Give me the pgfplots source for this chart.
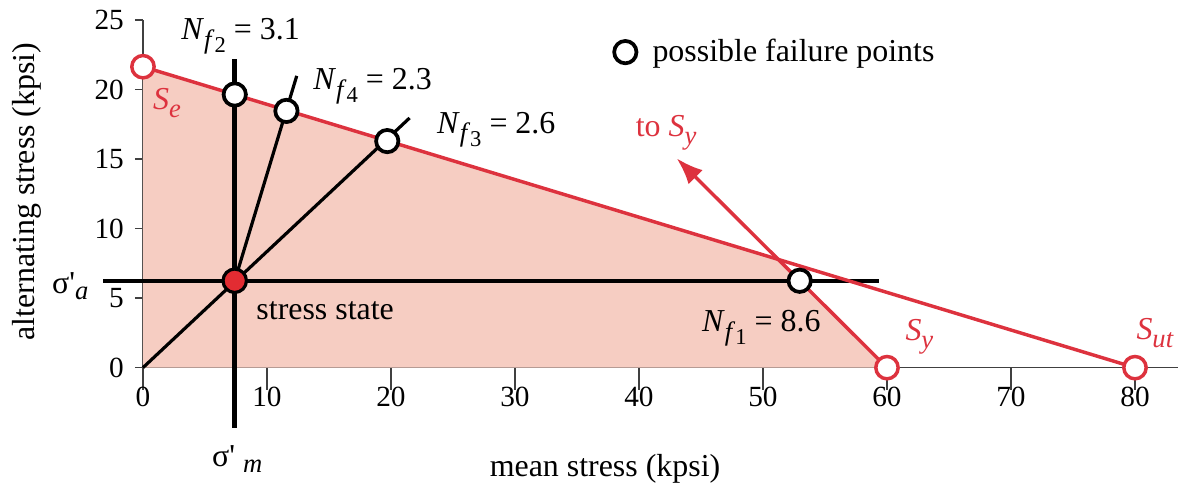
\documentclass[border=0pt]{standalone}
\usepackage{fontspec}
\setmainfont{LiberationSerif}[
  Extension=.ttf,
  UprightFont=*-Regular,
  BoldFont=*-Bold,
  ItalicFont=*-Italic,
  BoldItalicFont=*-BoldItalic]
\usepackage{pgfplots}
\pgfplotsset{compat=1.18}
\usetikzlibrary{arrows.meta}

\definecolor{goodred}{RGB}{221,50,62}
\definecolor{safefill}{RGB}{246,205,194}
\definecolor{statered}{RGB}{226,44,50}

% lowered subscript in text fonts
\newcommand{\lo}[2][3pt]{\raisebox{-#1}{\fontsize{10}{12}\selectfont #2}}
% safety factor N_{f_k}
\newcommand{\Nf}[1]{\textit{N}\raisebox{-3.2pt}{\fontsize{10}{12}\selectfont\textit{f}\raisebox{-1.8pt}{\fontsize{8.5}{10}\selectfont #1}}}
% primed stress component
\newcommand{\sig}[2][0pt]{σ\textquotesingle\hspace{#1}\lo[2.3pt]{\textit{#2}}}

\begin{document}
\fontsize{12}{14}\selectfont
\begin{tikzpicture}[lbl/.style={anchor=base west, inner sep=0pt}]
\begin{axis}[
  x=4.6617pt, y=5.2256pt,
  xmin=0, xmax=83.5, ymin=0, ymax=25,
  axis x line=bottom, axis y line=left,
  axis line style={-, line width=0.6pt, black!75},
  tick align=outside,
  major tick length=3pt,
  xtick={0,10,...,80}, ytick={0,5,...,25},
  xtick style={/pgfplots/major tick length=8.3pt, line width=0.6pt, black!75},
  ytick style={line width=0.6pt, black!75},
  ticklabel style={font=\fontsize{11}{13}\selectfont},
  /pgf/number format/assume math mode=true,
  clip=false,
]
% safe region below the Goodman and yield lines
\addplot[draw=none, fill=safefill] coordinates {(0,0) (0,21.65) (51.23,7.78) (60,0)} -- cycle;

% load lines through the stress state
\addplot[black, line width=1.9pt] coordinates {(7.4,-4.34) (7.4,22.2)};
\addplot[black, line width=1.6pt] coordinates {(-3.2,6.25) (59.35,6.25)};
\addplot[black, line width=1.2pt] coordinates {(0,0) (21.5,17.96)};
\addplot[black, line width=1.2pt] coordinates {(7.4,6.25) (12.4,20.99)};

% Goodman line and yield line
\addplot[goodred, line width=1.3pt] coordinates {(0,21.65) (80,0)};
\addplot[goodred, line width=1.3pt, -{Latex[length=10pt,width=7.5pt]}] coordinates {(60,0) (43.04,15.06)};

% strength points
\addplot[only marks, mark=*, mark size=4.2pt, mark options={draw=goodred, fill=white, line width=1.3pt}]
  coordinates {(0,21.65) (60,0) (80,0)};

% possible failure points
\addplot[only marks, mark=*, mark size=4.2pt, mark options={draw=black, fill=white, line width=1.4pt}]
  coordinates {(52.96,6.25) (7.4,19.65) (11.57,18.47) (19.7,16.3) (38.9,22.7)};

% stress state
\addplot[only marks, mark=*, mark size=4.4pt, mark options={draw=black, fill=statered, line width=1.2pt}]
  coordinates {(7.4,6.25)};

% labels
\node[lbl] at (axis cs:41.05,22.0) {possible failure points};
\node[lbl] at (axis cs:3.06,23.6) {\Nf{2} = 3.1};
\node[lbl] at (axis cs:13.7,20.0) {\Nf{4} = 2.3};
\node[lbl] at (axis cs:23.67,16.85) {\Nf{3} = 2.6};
\node[lbl] at (axis cs:45.05,2.59) {\Nf{1} = 8.6};
\node[lbl] at (axis cs:9.11,3.43) {stress state};
\node[lbl, text=goodred] at (axis cs:39.7,16.6) {to \textit{S}\lo{\textit{y}}};
\node[lbl, text=goodred] at (axis cs:0.78,18.54) {\textit{S}\lo{\textit{e}}};
\node[lbl, text=goodred] at (axis cs:61.45,1.94) {\textit{S}\lo{\textit{y}}};
\node[lbl, text=goodred] at (axis cs:80.08,1.99) {\textit{S}\lo{\textit{ut}}};
\node[lbl] at (axis cs:-7.37,5.35) {\sig{a}};
\node[lbl] at (axis cs:5.54,-7.12) {\sig[3pt]{m}};
\node[anchor=base] at (axis cs:37.26,-7.8) {mean stress (kpsi)};
\node[anchor=base, rotate=90] at (axis cs:-8.71,12.67) {alternating stress (kpsi)};

\coordinate (bbsw) at (axis cs:-11.53,-8.727);
\coordinate (bbne) at (axis cs:83.63,26.45);
\end{axis}
\pgfresetboundingbox
\path (bbsw) rectangle (bbne);
\end{tikzpicture}
\end{document}
